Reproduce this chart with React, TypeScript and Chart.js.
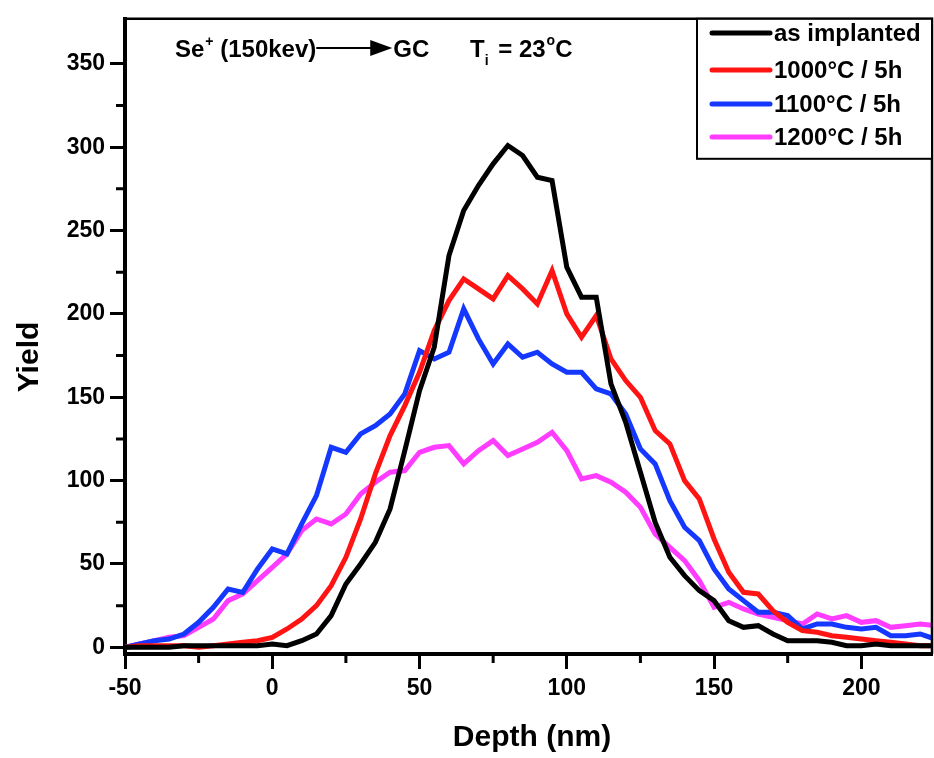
import React, { useEffect, useRef } from "react";
import { Chart, registerables } from "chart.js";

Chart.register(...registerables);

const depth = [
  -50, -45, -40, -35, -30, -25, -20, -15, -10, -5,
  0, 5, 10, 15, 20, 25, 30, 35, 40, 45,
  50, 55, 60, 65, 70, 75, 80, 85, 90, 95,
  100, 105, 110, 115, 120, 125, 130, 135, 140, 145,
  150, 155, 160, 165, 170, 175, 180, 185, 190, 195,
  200, 205, 210, 215, 220, 225,
];

const asImplanted = [
  0, 0, 0, 0, 1, 1, 1, 1, 1, 1,
  2, 1, 4, 8, 19, 38, 50, 63, 83, 118,
  154, 180, 235, 262, 277, 290, 301, 295, 282, 280,
  228, 210, 210, 158, 135, 105, 75, 54, 43, 34,
  28, 16, 12, 13, 8, 4, 4, 4, 3, 1,
  1, 2, 1, 1, 1, 1,
];

const anneal1000 = [
  0, 1, 1, 1, 1, 0, 1, 2, 3, 4,
  6, 11, 17, 25, 37, 54, 77, 104, 127, 145,
  165, 190, 208, 221, 215, 209, 223, 215, 206, 226,
  200, 186, 199, 173, 160, 150, 130, 122, 100, 89,
  65, 45, 33, 32, 22, 15, 10, 9, 7, 6,
  5, 4, 3, 2, 1, 1,
];

const anneal1100 = [
  0, 2, 4, 5, 8, 15, 24, 35, 33, 47,
  59, 56, 74, 91, 120, 117, 128, 133, 140, 152,
  178, 173, 177, 203, 185, 170, 182, 174, 177, 170,
  165, 165, 155, 152, 140, 119, 110, 88, 72, 64,
  47, 35, 28, 21, 21, 19, 11, 14, 14, 12,
  11, 12, 7, 7, 8, 5,
];

const anneal1200 = [
  0, 2, 4, 6, 7, 12, 17, 28, 32, 40,
  48, 56, 70, 77, 74, 80, 92, 99, 105, 106,
  117, 120, 121, 110, 118, 124, 115, 119, 123, 129,
  118, 101, 103, 99, 93, 84, 68, 60, 52, 40,
  24, 27, 23, 20, 18, 16, 14, 20, 17, 19,
  15, 16, 12, 13, 14, 13,
];

const seriesLabels = ["as implanted", "1000°C / 5h", "1100°C / 5h", "1200°C / 5h"];
const seriesColors = ["#000000", "#ff1414", "#1438ff", "#ff3cff"];
const seriesValues = [asImplanted, anneal1000, anneal1100, anneal1200];

const xTicks = [-50, 0, 50, 100, 150, 200];
const xMinorTicks = [-25, 25, 75, 125, 175];
const yTicks = [0, 50, 100, 150, 200, 250, 300, 350];
const yMinorTicks = [25, 75, 125, 175, 225, 275, 325];

const FONT = '"Liberation Sans", Arial, sans-serif';

const decorPlugin = {
  id: "decor",
  afterDraw(chart: any) {
    const { ctx, chartArea: a, scales } = chart;
    const xs = scales.x;
    const ys = scales.y;
    ctx.save();
    ctx.strokeStyle = "#000";
    ctx.fillStyle = "#000";

    // frame top and right
    ctx.lineWidth = 2.5;
    ctx.beginPath();
    ctx.moveTo(a.left, a.top);
    ctx.lineTo(a.right, a.top);
    ctx.lineTo(a.right, a.bottom);
    ctx.stroke();

    // minor ticks
    ctx.lineWidth = 3;
    ctx.beginPath();
    for (const v of xMinorTicks) {
      const px = xs.getPixelForValue(v);
      ctx.moveTo(px, a.bottom);
      ctx.lineTo(px, a.bottom + 9);
    }
    for (const v of yMinorTicks) {
      const py = ys.getPixelForValue(v);
      ctx.moveTo(a.left - 9, py);
      ctx.lineTo(a.left, py);
    }
    ctx.stroke();

    // legend
    const lx = 697;
    const ly = a.top;
    const lw = a.right - lx;
    const lh = 140;
    ctx.fillStyle = "#fff";
    ctx.fillRect(lx, ly, lw, lh);
    ctx.lineWidth = 2;
    ctx.strokeStyle = "#000";
    ctx.strokeRect(lx, ly, lw, lh);
    const rows = [33, 70, 104, 137];
    ctx.font = `bold 24px ${FONT}`;
    ctx.textBaseline = "middle";
    ctx.textAlign = "left";
    chart.data.datasets.forEach((ds: any, i: number) => {
      const ry = rows[i];
      ctx.strokeStyle = ds.borderColor;
      ctx.lineWidth = 5;
      ctx.lineCap = "round";
      ctx.beginPath();
      ctx.moveTo(712, ry);
      ctx.lineTo(770, ry);
      ctx.stroke();
      ctx.fillStyle = "#000";
      ctx.fillText(ds.label, 774, ry + 1);
    });
    ctx.lineCap = "butt";

    // annotation
    ctx.fillStyle = "#000";
    ctx.strokeStyle = "#000";
    ctx.textBaseline = "alphabetic";
    const by = 57;
    let cx = 175;
    const big = `bold 24px ${FONT}`;
    const small = `bold 14px ${FONT}`;
    ctx.font = big;
    ctx.fillText("Se", cx, by);
    cx += ctx.measureText("Se").width + 1;
    ctx.font = small;
    ctx.fillText("+", cx, by - 11);
    cx += ctx.measureText("+").width;
    ctx.font = big;
    ctx.fillText(" (150kev)", cx, by);
    cx += ctx.measureText(" (150kev)").width;
    ctx.lineWidth = 2;
    ctx.beginPath();
    ctx.moveTo(cx, by - 9);
    ctx.lineTo(cx + 56, by - 9);
    ctx.stroke();
    ctx.beginPath();
    ctx.moveTo(cx + 54, by - 17);
    ctx.lineTo(cx + 76, by - 9);
    ctx.lineTo(cx + 54, by - 1);
    ctx.closePath();
    ctx.fill();
    cx += 77;
    ctx.font = big;
    ctx.fillText("GC", cx, by);
    cx = 470;
    ctx.fillText("T", cx, by);
    cx += ctx.measureText("T").width;
    ctx.font = small;
    ctx.fillText("i", cx, by + 8);
    cx += ctx.measureText("i").width + 3;
    ctx.font = big;
    ctx.fillText(" = 23", cx, by);
    cx += ctx.measureText(" = 23").width + 1;
    ctx.font = small;
    ctx.fillText("o", cx, by - 12);
    cx += ctx.measureText("o").width;
    ctx.font = big;
    ctx.fillText("C", cx, by);

    // axis titles
    ctx.font = `bold 30px ${FONT}`;
    ctx.textAlign = "center";
    ctx.textBaseline = "middle";
    ctx.fillText("Depth (nm)", 532, 738);
    ctx.save();
    ctx.translate(30, 357);
    ctx.rotate(-Math.PI / 2);
    ctx.fillText("Yield", 0, 0);
    ctx.restore();

    ctx.restore();
  },
};

export default function App() {
  const canvasRef = useRef<HTMLCanvasElement | null>(null);

  useEffect(() => {
    document.body.style.margin = "0";
    const canvas = canvasRef.current;
    if (!canvas) return;
    const chart = new Chart(canvas, {
      type: "line",
      data: {
        labels: depth,
        datasets: seriesValues.map((vals, i) => ({
          label: seriesLabels[i],
          data: depth.map((d, j) => ({ x: d, y: vals[j] })),
          borderColor: seriesColors[i],
          backgroundColor: seriesColors[i],
          borderWidth: 5,
          pointRadius: 0,
          tension: 0,
          fill: false,
        })),
      },
      options: {
        animation: false,
        responsive: true,
        maintainAspectRatio: false,
        layout: { padding: { top: 13, right: 2, left: 0, bottom: 0 } },
        plugins: {
          legend: { display: false },
          tooltip: { enabled: false },
        },
        scales: {
          x: {
            type: "linear",
            min: -50,
            max: 224,
            afterBuildTicks: (s: any) => {
              s.ticks = xTicks.map((v) => ({ value: v }));
            },
            afterFit: (s: any) => {
              s.height = 104;
            },
            grid: {
              display: true,
              drawOnChartArea: false,
              drawTicks: true,
              tickLength: 15,
              tickWidth: 3,
              tickColor: "#000",
            },
            border: { display: true, color: "#000", width: 4 },
            ticks: {
              color: "#000",
              font: { family: FONT, size: 23, weight: "bold" },
              padding: 6,
              maxRotation: 0,
            },
          },
          y: {
            type: "linear",
            min: -4,
            max: 377,
            afterBuildTicks: (s: any) => {
              s.ticks = yTicks.map((v) => ({ value: v }));
            },
            afterFit: (s: any) => {
              s.width = 125;
            },
            grid: {
              display: true,
              drawOnChartArea: false,
              drawTicks: true,
              tickLength: 15,
              tickWidth: 3,
              tickColor: "#000",
            },
            border: { display: true, color: "#000", width: 4 },
            ticks: {
              color: "#000",
              font: { family: FONT, size: 23, weight: "bold" },
              padding: 5,
            },
          },
        },
      },
      plugins: [decorPlugin],
    });
    return () => chart.destroy();
  }, []);

  return (
    <div style={{ position: "absolute", left: 0, top: 0, width: 934, height: 758 }}>
      <canvas ref={canvasRef} />
    </div>
  );
}
